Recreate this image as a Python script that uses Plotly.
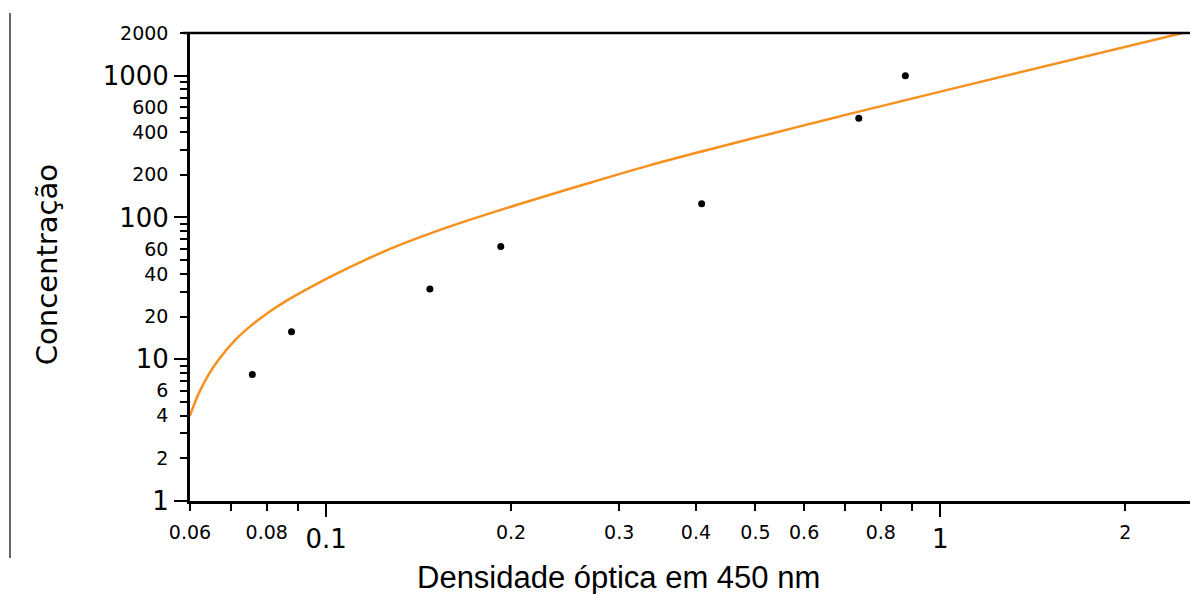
import plotly.graph_objects as go

# Data
point_od = [0.0758, 0.0878, 0.1475, 0.1924, 0.4086, 0.7365, 0.877]
point_conc = [7.8, 15.6, 31.25, 62.5, 125, 500, 1000]

curve_od = [0.0600, 0.0619, 0.0643, 0.0667, 0.0710, 0.0756, 0.0804, 0.0857, 0.0918,
            0.1026, 0.1163, 0.1318, 0.1493, 0.1692, 0.204, 0.262, 0.336, 0.416,
            0.534, 0.685, 1.0, 2.48]
curve_conc = [4.0, 5.65, 7.75, 9.85, 13.6, 17.4, 21.3, 25.5, 30.2,
              39.0, 50.7, 64.0, 78.5, 94.6, 122.5, 170, 233, 298,
              393, 516, 772, 2000]

x_small_ticks = [0.06, 0.08, 0.2, 0.3, 0.4, 0.5, 0.6, 0.8, 2]
x_small_text = ["0.06", "0.08", "0.2", "0.3", "0.4", "0.5", "0.6", "0.8", "2"]
x_big_ticks = [0.1, 1]
x_big_text = ["0.1", "1"]
x_minor_ticks = [0.07, 0.09, 0.7, 0.9]

y_small_ticks = [2, 4, 6, 20, 40, 60, 200, 400, 600, 2000]
y_small_text = ["2", "4", "6", "20", "40", "60", "200", "400", "600", "2000"]
y_big_ticks = [1, 10, 100, 1000]
y_big_text = ["1", "10", "100", "1000"]
y_minor_ticks = [3, 5, 7, 8, 9, 30, 50, 70, 80, 90, 300, 500, 700, 800, 900]

x_range = [-1.2218, 0.4065]
y_range = [0.0, 3.30103]

FONT = "DejaVu Sans"

fig = go.Figure()
fig.add_trace(go.Scatter(x=curve_od, y=curve_conc, mode="lines",
                         line=dict(color="#F7901E", width=2.5, shape="spline",
                                   smoothing=1.0, simplify=False),
                         hoverinfo="skip", showlegend=False, cliponaxis=True))
fig.add_trace(go.Scatter(x=point_od, y=point_conc, mode="markers",
                         marker=dict(color="black", size=7),
                         showlegend=False))
fig.add_trace(go.Scatter(x=[], y=[], xaxis="x2", yaxis="y2", showlegend=False, hoverinfo="skip"))

fig.update_layout(
    width=1193, height=594,
    margin=dict(l=190, r=3, t=33, b=93),
    paper_bgcolor="white", plot_bgcolor="white",
    xaxis=dict(type="log", range=x_range, showgrid=False, zeroline=False,
               showline=True, linecolor="black", linewidth=2.5,
               tickmode="array", tickvals=x_small_ticks, ticktext=x_small_text,
               ticks="outside", ticklen=7, tickwidth=2, tickcolor="black",
               tickfont=dict(family=FONT, size=19, color="black"),
               ticklabelstandoff=5,
               minor=dict(tickvals=x_minor_ticks, ticks="outside", ticklen=7,
                          tickwidth=2, tickcolor="black", showgrid=False)),
    xaxis2=dict(type="log", range=x_range, overlaying="x", anchor="y2", side="bottom",
                showgrid=False, zeroline=False, showline=False,
                tickmode="array", tickvals=x_big_ticks, ticktext=x_big_text,
                ticks="outside", ticklen=15, tickwidth=2, tickcolor="black",
                tickfont=dict(family=FONT, size=26, color="black"),
                ticklabelstandoff=0),
    yaxis=dict(type="log", range=y_range, showgrid=False, zeroline=False,
               showline=True, linecolor="black", linewidth=2.5,
               tickmode="array", tickvals=y_small_ticks, ticktext=y_small_text,
               ticks="outside", ticklen=7, tickwidth=2, tickcolor="black",
               tickfont=dict(family=FONT, size=19, color="black"),
               ticklabelstandoff=8,
               minor=dict(tickvals=y_minor_ticks, ticks="outside", ticklen=7,
                          tickwidth=2, tickcolor="black", showgrid=False)),
    yaxis2=dict(type="log", range=y_range, overlaying="y", anchor="x2", side="left",
                showgrid=False, zeroline=False, showline=False,
                tickmode="array", tickvals=y_big_ticks, ticktext=y_big_text,
                ticks="outside", ticklen=15, tickwidth=2, tickcolor="black",
                tickfont=dict(family=FONT, size=26, color="black"),
                ticklabelstandoff=0),
    shapes=[
        dict(type="line", xref="paper", yref="paper", x0=-0.007, x1=1.0, y0=1, y1=1,
             line=dict(color="black", width=2.5)),
        dict(type="line", xref="paper", yref="paper", x0=-0.18, x1=-0.18, y0=1.0427, y1=-0.1218,
             line=dict(color="black", width=1.2)),
    ],
    annotations=[
        dict(text="Concentração", xref="paper", yref="paper", x=-0.143, y=0.504,
             xanchor="center", yanchor="middle", textangle=-90, showarrow=False,
             font=dict(family=FONT, size=29, color="black")),
        dict(text="Densidade óptica em 450 nm", xref="paper", yref="paper", x=0.428, y=-0.1645,
             xanchor="center", yanchor="middle", showarrow=False,
             font=dict(family="Liberation Sans", size=31, color="black")),
    ],
)

fig.write_html("out.html")
